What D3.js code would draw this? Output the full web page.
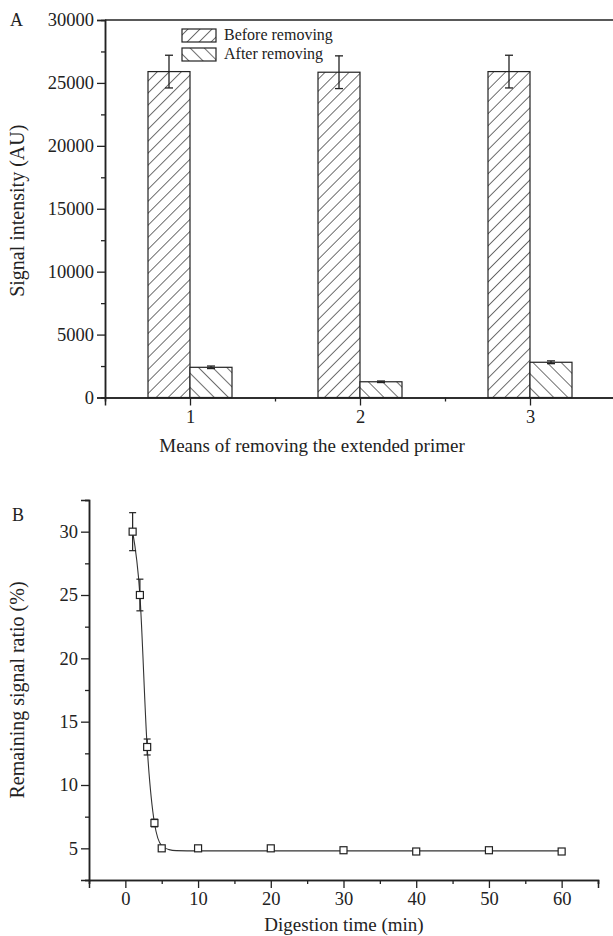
<!DOCTYPE html>
<html>
<head>
<meta charset="utf-8">
<script src="https://cdn.jsdelivr.net/npm/d3@7"></script>
<style>
    html, body { margin: 0; padding: 0; background: #fff; }
    svg text { font-family: "Liberation Serif", "Times New Roman", serif; fill: #222; }
</style>
</head>
<body>
<div id="chart"></div>
<script>
// Panel A: signal before / after removing the extended primer
const meansCategories = [1, 2, 3];
const beforeValues = [25900, 25850, 25900];
const beforeErrors = [1300, 1300, 1300];
const afterValues = [2400, 1250, 2800];
const afterErrors = [100, 60, 110];
const signalTicks = [0, 5000, 10000, 15000, 20000, 25000, 30000];
const legendLabels = ['Before removing', 'After removing'];

// Panel B: remaining signal vs digestion time
const digestTimes = [1, 2, 3, 4, 5, 10, 20, 30, 40, 50, 60];
const remainingRatio = [30, 25, 13, 7, 5, 5, 5, 4.85, 4.75, 4.85, 4.75];
const remainingErrors = [1.5, 1.25, 0.63, 0.3, 0.1, 0.1, 0.1, 0.1, 0.1, 0.1, 0.1];
// fitted curve
const fitTimes = [1, 2, 3, 4, 5, 6, 7, 10, 60];
const fitRatio = [30, 25, 13, 7, 5.2, 4.9, 4.82, 4.8, 4.8];
const ratioTicks = [5, 10, 15, 20, 25, 30];
const timeTicks = [0, 10, 20, 30, 40, 50, 60];

(function () {
    'use strict';

    const W = 613, H = 936;
    const INK = '#222';
    const svg = d3.select('#chart').append('svg').attr('width', W).attr('height', H);

    // Hatch patterns: "/" for before, "\" for after
    const defs = svg.append('defs');
    [['hatchBefore', 45, 8.5], ['hatchAfter', -45, 10]].forEach(([id, angle, gap]) => {
        const p = defs.append('pattern').attr('id', id)
            .attr('patternUnits', 'userSpaceOnUse')
            .attr('width', gap).attr('height', gap)
            .attr('patternTransform', `rotate(${angle})`);
        p.append('rect').attr('width', gap).attr('height', gap).attr('fill', '#fff');
        p.append('line').attr('x1', 0).attr('x2', 0).attr('y1', 0).attr('y2', gap)
            .attr('stroke', INK).attr('stroke-width', 1.3);
    });

    function styleAxis(gg) {
        gg.select('.domain').attr('stroke', INK).attr('stroke-width', 1.5);
        gg.selectAll('.tick line').attr('stroke', INK).attr('stroke-width', 1.3);
        gg.selectAll('text').attr('font-size', '18.5px').attr('fill', INK);
    }

    // ---------------- Panel A ----------------
    const xA = d3.scaleLinear().domain([0.5, 3.5]).range([105, 615]);
    const yA = d3.scaleLinear().domain([0, 30000]).range([397.5, 20]);
    const barW = 42;

    const gA = svg.append('g');

    // top frame line
    gA.append('line').attr('x1', xA(0.5)).attr('x2', W).attr('y1', yA(30000)).attr('y2', yA(30000))
        .attr('stroke', INK).attr('stroke-width', 1.5);

    const bars = [
        {vals: beforeValues, errs: beforeErrors, fill: 'url(#hatchBefore)', off: -barW},
        {vals: afterValues, errs: afterErrors, fill: 'url(#hatchAfter)', off: 0}
    ];
    bars.forEach(s => {
        meansCategories.forEach((c, i) => {
            gA.append('rect')
                .attr('x', xA(c) + s.off).attr('y', yA(s.vals[i]))
                .attr('width', barW).attr('height', yA(0) - yA(s.vals[i]))
                .attr('fill', s.fill).attr('stroke', INK).attr('stroke-width', 1.2);
        });
    });
    bars.forEach(s => {
        meansCategories.forEach((c, i) => {
            const cx = xA(c) + s.off + barW / 2;
            const y1 = yA(s.vals[i] + s.errs[i]), y2 = yA(s.vals[i] - s.errs[i]);
            gA.append('line').attr('x1', cx).attr('x2', cx).attr('y1', y1).attr('y2', y2)
                .attr('stroke', INK).attr('stroke-width', 1.3);
            [y1, y2].forEach(y => gA.append('line')
                .attr('x1', cx - 4).attr('x2', cx + 4).attr('y1', y).attr('y2', y)
                .attr('stroke', INK).attr('stroke-width', 1.3));
        });
    });

    // minor ticks
    gA.append('g').attr('transform', `translate(${xA(0.5)},0)`)
        .call(d3.axisLeft(yA).tickValues(d3.range(2500, 30000, 5000)).tickSize(4).tickFormat(''))
        .call(styleAxis);
    gA.append('g').attr('transform', `translate(0,${yA(0)})`)
        .call(d3.axisBottom(xA).tickValues([1.5, 2.5]).tickSize(4).tickFormat(''))
        .call(styleAxis);
    // major axes
    gA.append('g').attr('transform', `translate(${xA(0.5)},0)`)
        .call(d3.axisLeft(yA).tickValues(signalTicks).tickSize(8).tickPadding(3).tickFormat(d3.format('d')))
        .call(styleAxis);
    gA.append('g').attr('transform', `translate(0,${yA(0)})`)
        .call(d3.axisBottom(xA).tickValues(meansCategories).tickSize(8).tickPadding(4).tickFormat(d3.format('d')))
        .call(styleAxis);

    // legend
    legendLabels.forEach((lab, i) => {
        const ly = 29 + i * 19;
        gA.append('rect').attr('x', 182).attr('y', ly).attr('width', 34).attr('height', 13)
            .attr('fill', i === 0 ? 'url(#hatchBefore)' : 'url(#hatchAfter)')
            .attr('stroke', INK).attr('stroke-width', 1.2);
        gA.append('text').attr('x', 224).attr('y', ly + 11).attr('font-size', '16px').text(lab);
    });

    gA.append('text').attr('x', 10).attr('y', 26).attr('font-size', '18px').text('A');
    gA.append('text').attr('text-anchor', 'middle')
        .attr('transform', `translate(24,${(yA(0) + yA(30000)) / 2 + 2}) rotate(-90)`)
        .attr('font-size', '20px').text('Signal intensity (AU)');
    gA.append('text').attr('text-anchor', 'middle').attr('x', 312).attr('y', 452)
        .attr('font-size', '19px').text('Means of removing the extended primer');

    // ---------------- Panel B ----------------
    const xB = d3.scaleLinear().domain([-5, 65]).range([89, 598]);
    const yB = d3.scaleLinear().domain([2.5, 32.5]).range([880, 500]);
    const gB = svg.append('g');

    gB.append('g').attr('transform', `translate(${xB(-5)},0)`)
        .call(d3.axisLeft(yB).tickValues(d3.range(2.5, 33, 5)).tickSize(4).tickFormat(''))
        .call(styleAxis);
    gB.append('g').attr('transform', `translate(0,${yB(2.5)})`)
        .call(d3.axisBottom(xB).tickValues(d3.range(-5, 66, 10)).tickSize(4).tickFormat(''))
        .call(styleAxis);
    gB.append('g').attr('transform', `translate(${xB(-5)},0)`)
        .call(d3.axisLeft(yB).tickValues(ratioTicks).tickSize(8).tickPadding(3).tickFormat(d3.format('d')))
        .call(styleAxis);
    gB.append('g').attr('transform', `translate(0,${yB(2.5)})`)
        .call(d3.axisBottom(xB).tickValues(timeTicks).tickSize(8).tickPadding(4).tickFormat(d3.format('d')))
        .call(styleAxis);

    const fit = d3.line().x(d => xB(d[0])).y(d => yB(d[1])).curve(d3.curveMonotoneX);
    gB.append('path').datum(fitTimes.map((t, i) => [t, fitRatio[i]]))
        .attr('d', fit).attr('fill', 'none').attr('stroke', '#333').attr('stroke-width', 1.1);

    digestTimes.forEach((t, i) => {
        const cx = xB(t), v = remainingRatio[i], e = remainingErrors[i];
        const y1 = yB(v + e), y2 = yB(v - e);
        gB.append('line').attr('x1', cx).attr('x2', cx).attr('y1', y1).attr('y2', y2)
            .attr('stroke', INK).attr('stroke-width', 1.2);
        [y1, y2].forEach(y => gB.append('line')
            .attr('x1', cx - 3.5).attr('x2', cx + 3.5).attr('y1', y).attr('y2', y)
            .attr('stroke', INK).attr('stroke-width', 1.2));
        gB.append('rect').attr('x', cx - 3.5).attr('y', yB(v) - 3.5)
            .attr('width', 7).attr('height', 7)
            .attr('fill', '#fff').attr('stroke', INK).attr('stroke-width', 1.2);
    });

    gB.append('text').attr('x', 12).attr('y', 521).attr('font-size', '18px').text('B');
    gB.append('text').attr('text-anchor', 'middle')
        .attr('transform', `translate(24,${(yB(2.5) + yB(32.5)) / 2}) rotate(-90)`)
        .attr('font-size', '20px').text('Remaining signal ratio (%)');
    gB.append('text').attr('text-anchor', 'middle').attr('x', 344).attr('y', 931)
        .attr('font-size', '19px').text('Digestion time (min)');
})();
</script>
</body>
</html>
